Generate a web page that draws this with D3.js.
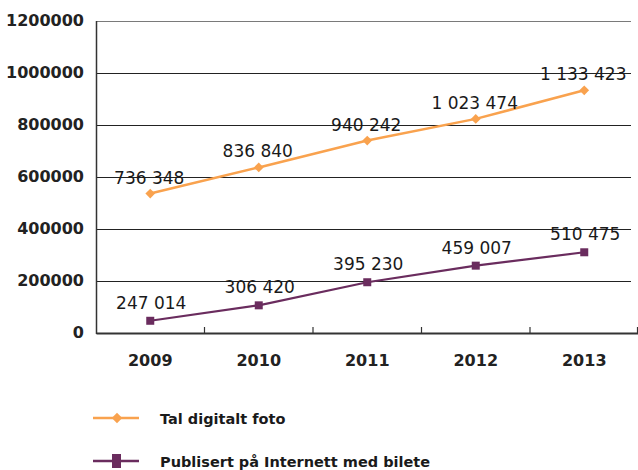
<!doctype html>
<html lang="nn">
  <head>
    <meta charset="UTF-8" />
    <title>Digitale foto</title>
    <style>
      body {
        margin: 0;
        background: #fff;
        font-family: "DejaVu Sans", sans-serif;
      }
      svg {
        display: block;
      }
    </style>
  </head>
  <body>
    <svg id="chart" width="638" height="470"></svg>

    <script src="https://d3js.org/d3.v7.min.js"></script>
    <script>
      const years = ["2009", "2010", "2011", "2012", "2013"];
      const digitalPhotos = [736348, 836840, 940242, 1023474, 1133423];
      const publishedOnline = [247014, 306420, 395230, 459007, 510475];
      const digitalLabels = ["736 348", "836 840", "940 242", "1 023 474", "1 133 423"];
      const onlineLabels = ["247 014", "306 420", "395 230", "459 007", "510 475"];
      const yTickLabels = ["0", "200000", "400000", "600000", "800000", "1000000", "1200000"];
      const seriesNames = ["Tal digitalt foto", "Publisert på Internett med bilete"];
      // the printed axis sits 200000 below the value labels
      const axisBase = 200000;

      const orange = "#f9a24e";
      const purple = "#6a2c5e";

      const svg = d3.select("#chart");

      const x = d3.scaleBand().domain(years).range([96, 638.5]).padding(0);
      const y = d3
        .scaleLinear()
        .domain([axisBase, axisBase + 1200000])
        .range([333, 21]);
      const cx = (d) => x(d) + x.bandwidth() / 2;

      const tickVals = yTickLabels.map((t) => +t + axisBase);

      // gridlines
      svg
        .append("g")
        .selectAll("line")
        .data(tickVals.slice(1))
        .join("line")
        .attr("x1", 96)
        .attr("x2", 631)
        .attr("y1", (d) => Math.round(y(d)) + 0.5)
        .attr("y2", (d) => Math.round(y(d)) + 0.5)
        .attr("stroke", (d, i) => (i === tickVals.length - 2 ? "#7a7a7a" : "#222"))
        .attr("stroke-width", 1.2);

      // y labels
      svg
        .append("g")
        .selectAll("text")
        .data(tickVals)
        .join("text")
        .attr("x", 84)
        .attr("y", (d) => y(d) - 1)
        .attr("dy", "0.36em")
        .attr("text-anchor", "end")
        .attr("font-size", 16)
        .attr("font-weight", "bold")
        .attr("fill", "#222")
        .text((d, i) => yTickLabels[i]);

      // left axis line
      svg
        .append("line")
        .attr("x1", 96.5)
        .attr("x2", 96.5)
        .attr("y1", 21)
        .attr("y2", 334)
        .attr("stroke", "#333")
        .attr("stroke-width", 1.5);

      // bottom axis with ticks pointing up
      const xAxis = d3
        .axisBottom(x)
        .tickSize(0)
        .tickPadding(22)
        .tickFormat((d) => d);
      const gx = svg
        .append("g")
        .attr("transform", "translate(0,333)")
        .call(xAxis);
      gx.select(".domain").attr("stroke", "#333").attr("stroke-width", 1.8);
      gx.selectAll("text")
        .attr("font-family", "DejaVu Sans, sans-serif")
        .attr("font-size", 16)
        .attr("font-weight", "bold")
        .attr("fill", "#222");
      gx.append("g")
        .selectAll("line")
        .data(years.slice(1).concat(["end"]))
        .join("line")
        .attr("x1", (d) => (d === "end" ? 637.5 : x(d)))
        .attr("x2", (d) => (d === "end" ? 637.5 : x(d)))
        .attr("y1", 0)
        .attr("y2", -6)
        .attr("stroke", "#333")
        .attr("stroke-width", 1.2);

      const line = d3
        .line()
        .x((d, i) => cx(years[i]))
        .y((d) => y(d));

      // orange series
      svg
        .append("path")
        .datum(digitalPhotos)
        .attr("d", line)
        .attr("fill", "none")
        .attr("stroke", orange)
        .attr("stroke-width", 2.5);
      svg
        .append("g")
        .selectAll("path")
        .data(digitalPhotos)
        .join("path")
        .attr("d", d3.symbol(d3.symbolDiamond2, 60))
        .attr("transform", (d, i) => `translate(${cx(years[i])},${y(d)})`)
        .attr("fill", orange);

      // purple series
      svg
        .append("path")
        .datum(publishedOnline)
        .attr("d", line)
        .attr("fill", "none")
        .attr("stroke", purple)
        .attr("stroke-width", 2.2);
      svg
        .append("g")
        .selectAll("rect")
        .data(publishedOnline)
        .join("rect")
        .attr("x", (d, i) => cx(years[i]) - 4)
        .attr("y", (d) => y(d) - 4)
        .attr("width", 8)
        .attr("height", 8)
        .attr("fill", purple);

      // value labels
      const labelGroup = svg
        .append("g")
        .attr("font-size", 17)
        .attr("fill", "#1a1a1a")
        .attr("text-anchor", "middle");
      labelGroup
        .selectAll("text.a")
        .data(digitalPhotos)
        .join("text")
        .attr("class", "a")
        .attr("x", (d, i) => cx(years[i]) - 1)
        .attr("y", (d) => y(d) - 10)
        .text((d, i) => digitalLabels[i]);
      labelGroup
        .selectAll("text.b")
        .data(publishedOnline)
        .join("text")
        .attr("class", "b")
        .attr("x", (d, i) => cx(years[i]) + 1)
        .attr("y", (d) => y(d) - 12)
        .text((d, i) => onlineLabels[i]);

      // legend
      const legend = svg.append("g");
      const rows = [
        { name: seriesNames[0], color: orange, y: 418, shape: "diamond" },
        { name: seriesNames[1], color: purple, y: 461, shape: "square" },
      ];
      rows.forEach((r) => {
        legend
          .append("line")
          .attr("x1", 93)
          .attr("x2", 139)
          .attr("y1", r.y)
          .attr("y2", r.y)
          .attr("stroke", r.color)
          .attr("stroke-width", 2.5);
        if (r.shape === "diamond") {
          legend
            .append("path")
            .attr("d", d3.symbol(d3.symbolDiamond2, 70))
            .attr("transform", `translate(117,${r.y})`)
            .attr("fill", r.color);
        } else {
          legend
            .append("rect")
            .attr("x", 112)
            .attr("y", r.y - 7)
            .attr("width", 9)
            .attr("height", 14)
            .attr("fill", r.color);
        }
        legend
          .append("text")
          .attr("x", 160)
          .attr("y", r.y + 6)
          .attr("font-size", 14.5)
          .attr("font-weight", "bold")
          .attr("fill", "#1a1a1a")
          .text(r.name);
      });
    </script>
  </body>
</html>
